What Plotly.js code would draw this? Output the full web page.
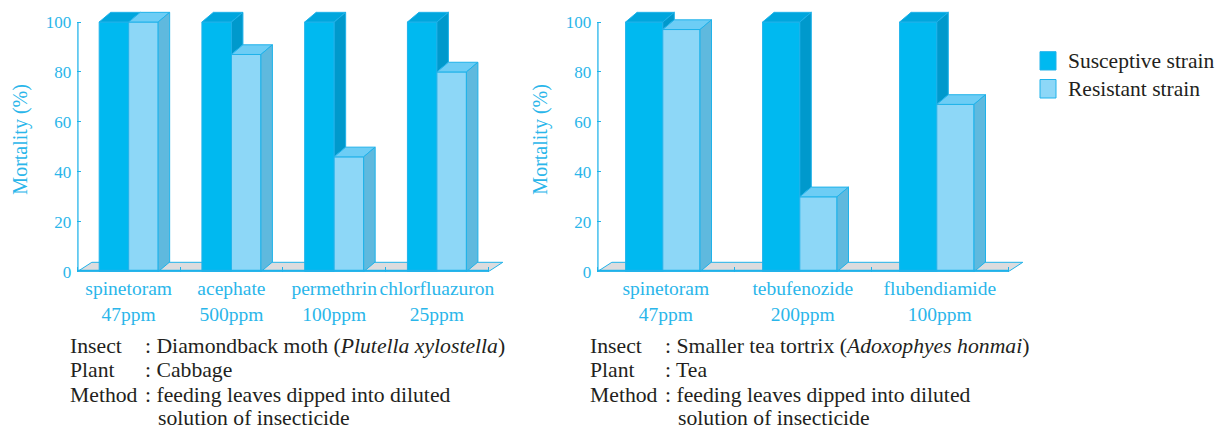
<!DOCTYPE html>
<html><head><meta charset="utf-8">
<script src="https://cdn.plot.ly/plotly-3.0.1.min.js"></script>
<style>html,body{margin:0;padding:0;background:#fff;} #chart{width:1230px;height:432px;}</style>
</head><body><div id="chart"></div>
<script>
// ---- data ----
const leftCats = ['spinetoram', 'acephate', 'permethrin', 'chlorfluazuron'];
const leftDoses = ['47ppm', '500ppm', '100ppm', '25ppm'];
const leftSusceptive = [100, 100, 100, 100];
const leftResistant = [100, 87, 46, 80];

const rightCats = ['spinetoram', 'tebufenozide', 'flubendiamide'];
const rightDoses = ['47ppm', '200ppm', '100ppm'];
const rightSusceptive = [100, 100, 100];
const rightResistant = [97, 30, 67];

const yTicks = [0, 20, 40, 60, 80, 100];
const seriesNames = ['Susceptive strain', 'Resistant strain'];
const yTitle = 'Mortality (%)';

const leftNotes = [
  ['Insect', ': Diamondback moth (<i>Plutella xylostella</i>)'],
  ['Plant', ': Cabbage'],
  ['Method', ': feeding leaves dipped into diluted'],
  ['', 'solution of insecticide']
];
const rightNotes = [
  ['Insect', ': Smaller tea tortrix (<i>Adoxophyes honmai</i>)'],
  ['Plant', ': Tea'],
  ['Method', ': feeding leaves dipped into diluted'],
  ['', 'solution of insecticide']
];

// ---- styling / layout ----
const W = 1230, H = 432;
const Y0PX = 271.7, PXU = 2.4967, YMAX = 106;
const COL = {
  darkFront: '#00b9f0', darkTop: '#00a6dd', darkSide: '#0099cc',
  lightFront: '#8dd7f7', lightTop: '#6dcdf5', lightSide: '#5fb9de',
  edge: '#1fb2ea', floor: '#dcdcde', axis: '#1fb2ea', tick: '#2ab6ea', text: '#231f20'
};
const SERIF = 'Liberation Serif';
const NOTE_FONT = {family: SERIF, size: 21.7, color: COL.text};

const panels = [
  {cats: leftCats, doses: leftDoses, sus: leftSusceptive, res: leftResistant,
   x0px: 77.3, catPx: 102.75, barPx: 29.5, shiftPx: 0, ax: '', notes: leftNotes, notesX: 68, colonX: 143, contX: 156},
  {cats: rightCats, doses: rightDoses, sus: rightSusceptive, res: rightResistant,
   x0px: 597.3, catPx: 137, barPx: 37.2, shiftPx: -3, ax: '2', notes: rightNotes, notesX: 588.3, colonX: 663, contX: 676}
];

const traces = [];
const shapes = [];
const annotations = [];
const layout = {
  width: W, height: H, margin: {l: 0, r: 0, t: 0, b: 0},
  paper_bgcolor: '#fff', plot_bgcolor: 'rgba(0,0,0,0)',
  barmode: 'overlay', showlegend: false
};

const yDomain = [(H - Y0PX) / H, (H - (Y0PX - YMAX * PXU)) / H];

panels.forEach((p) => {
  const n = p.cats.length;
  const extra = 18 / p.catPx;
  const xr = 'x' + p.ax, yr = 'y' + p.ax;
  const w = p.barPx / p.catPx, s = p.shiftPx / p.catPx;
  const dxB = 11.5 / p.catPx, dyB = 9.7 / PXU;
  const dxF = 14.5 / p.catPx, dyF = 9.4 / PXU;
  const idx = p.cats.map((c, i) => i);

  layout['xaxis' + p.ax] = {
    domain: [p.x0px / W, (p.x0px + p.catPx * (n + extra)) / W],
    range: [-0.5, n - 0.5 + extra], anchor: yr,
    showgrid: false, zeroline: false, showline: false, fixedrange: true,
    tickmode: 'array', tickvals: idx, tickangle: 0, ticklabelstandoff: 3,
    ticktext: p.cats.map((c, i) => c + '<br>' + p.doses[i]),
    ticks: '', tickfont: {family: SERIF, size: 19.5, color: COL.tick},
    minor: {tickmode: 'array', tickvals: idx.concat([n]).map(i => i - 0.5),
            ticks: 'inside', ticklen: 5, tickwidth: 1, tickcolor: COL.axis, showgrid: false}
  };
  layout['yaxis' + p.ax] = {
    domain: yDomain, range: [0, YMAX], anchor: xr,
    showgrid: false, zeroline: false, showline: false, fixedrange: true,
    tickmode: 'array', tickvals: yTicks,
    ticks: 'inside', ticklen: 4, tickwidth: 1, tickcolor: COL.axis, ticklabelstandoff: 5,
    tickfont: {family: SERIF, size: 17, color: COL.tick},
    title: {text: yTitle, font: {family: SERIF, size: 20, color: COL.tick}, standoff: 12}
  };

  traces.push({
    type: 'bar', name: seriesNames[0], x: idx, y: p.sus, xaxis: xr, yaxis: yr,
    width: w, offset: -w + s,
    marker: {color: COL.darkFront, line: {color: COL.edge, width: 1}}, hoverinfo: 'y'
  });
  traces.push({
    type: 'bar', name: seriesNames[1], x: idx, y: p.res, xaxis: xr, yaxis: yr,
    width: w, offset: s,
    marker: {color: COL.lightFront, line: {color: COL.edge, width: 1}}, hoverinfo: 'y'
  });

  const poly = (pts, fill, layer) => ({
    type: 'path', xref: xr, yref: yr, layer: layer || 'above',
    path: 'M' + pts.map(q => q[0] + ',' + q[1]).join('L') + 'Z',
    fillcolor: fill, line: {color: COL.edge, width: 1}
  });

  // floor of the 3-D box
  shapes.push(poly([[-0.5, 0], [-0.5 + dxF, dyF], [n - 0.5 + dxF, dyF], [n - 0.5, 0]], COL.floor, 'below'));

  // 3-D top and side faces of each bar, derived from the values
  idx.forEach(i => {
    const vd = p.sus[i], vl = p.res[i];
    const xld = i - w + s, xrd = i + s, xrl = i + w + s;
    shapes.push(poly([[xld, vd], [xld + dxB, vd + dyB], [xrd + dxB, vd + dyB], [xrd, vd]], COL.darkTop));
    if (vl < vd) {
      shapes.push(poly([[xrd, vl], [xrd, vd], [xrd + dxB, vd + dyB], [xrd + dxB, vl + dyB]], COL.darkSide));
    }
    shapes.push(poly([[xrd, vl], [xrd + dxB, vl + dyB], [xrl + dxB, vl + dyB], [xrl, vl]], COL.lightTop));
    shapes.push(poly([[xrl, 0], [xrl, vl], [xrl + dxB, vl + dyB], [xrl + dxB, dyB]], COL.lightSide));
  });

  // axis lines
  shapes.push({type: 'line', xref: xr, yref: yr, x0: -0.5, x1: n - 0.5, y0: 0, y1: 0,
               line: {color: COL.axis, width: 4}, layer: 'above'});
  shapes.push({type: 'line', xref: xr, yref: yr, x0: -0.5, x1: -0.5, y0: 0, y1: yTicks[yTicks.length - 1],
               line: {color: COL.axis, width: 2.5}, layer: 'above'});

  // notes below each chart
  const lineY = [346, 370, 394.5, 418];
  p.notes.forEach((row, k) => {
    if (row[0]) {
      annotations.push({xref: 'paper', yref: 'paper', x: p.notesX / W, y: 1 - lineY[k] / H,
        xanchor: 'left', yanchor: 'middle', showarrow: false, text: row[0], font: Object.assign({}, NOTE_FONT)});
    }
    annotations.push({xref: 'paper', yref: 'paper', x: (row[0] ? p.colonX : p.contX) / W, y: 1 - lineY[k] / H,
      xanchor: 'left', yanchor: 'middle', showarrow: false, text: row[1], font: Object.assign({}, NOTE_FONT)});
  });
});

// legend
const legendRows = [
  {name: seriesNames[0], fill: COL.darkFront, y0: 51.7, y1: 70},
  {name: seriesNames[1], fill: COL.lightFront, y0: 79.5, y1: 98}
];
legendRows.forEach(r => {
  shapes.push({type: 'rect', xref: 'paper', yref: 'paper', x0: 1040 / W, x1: 1056 / W,
    y0: 1 - r.y1 / H, y1: 1 - r.y0 / H, fillcolor: r.fill, line: {color: COL.edge, width: 1}});
  annotations.push({xref: 'paper', yref: 'paper', x: 1066 / W, y: 1 - (r.y0 + r.y1) / 2 / H,
    xanchor: 'left', yanchor: 'middle', showarrow: false, text: r.name,
    font: {family: SERIF, size: 21.5, color: COL.text}});
});

layout.shapes = shapes;
layout.annotations = annotations;

Plotly.newPlot('chart', traces, layout, {displayModeBar: false});
</script>
</body></html>
